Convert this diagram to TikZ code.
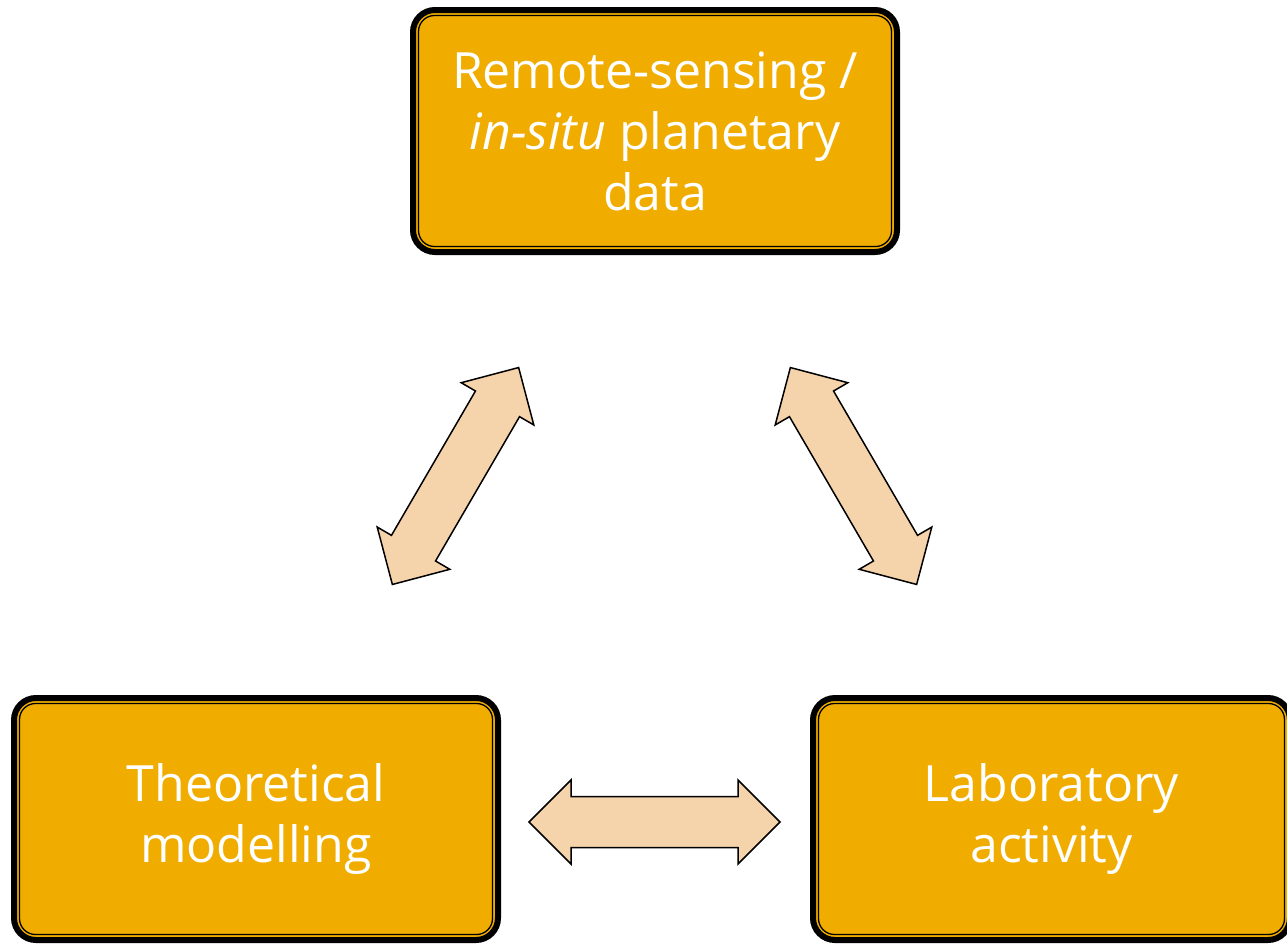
\documentclass[tikz,border=0pt]{standalone}
\usepackage{fontspec}
\setmainfont{Open Sans}
\definecolor{boxorange}{HTML}{F0AD00}
\definecolor{arrowpeach}{HTML}{F6D4AB}
\tikzset{
  bigbox/.style={draw=black, line width=6pt, fill=boxorange, rounded corners=22pt,
    minimum height=242pt, inner sep=0pt, outer sep=0pt, align=center, text=white,
    font=\fontsize{50pt}{61pt}\selectfont},
  innerline/.style={draw=black, line width=1.3pt, rounded corners=16pt},
  dblarrow/.style={draw=black, line width=1.5pt, fill=arrowpeach, line join=miter}
}
\newcommand{\dblarrowshape}{(-125.5,0) -- (-83.5,42) -- (-83.5,25.5) -- (83.5,25.5) -- (83.5,42) -- (125.5,0) -- (83.5,-42) -- (83.5,-25.5) -- (-83.5,-25.5) -- (-83.5,-42) -- cycle}
\begin{document}
\begin{tikzpicture}[x=1pt,y=-1pt]
\useasboundingbox (0,0) rectangle (1287,943);
\clip (0,0) rectangle (1287,943);
\node[bigbox, minimum width=484pt] (remote) at (655,131) {Remote-sensing /\\\textit{in-situ} planetary\\data};
\node[bigbox, minimum width=484pt] (theory) at (256,819) {Theoretical\\modelling};
\node[bigbox, minimum width=477pt] (lab) at (1051.5,819) {Laboratory\\activity};
\draw[innerline] ([shift={(5.5,5.5)}]remote.north west) rectangle ([shift={(-5.5,-5.5)}]remote.south east);
\draw[innerline] ([shift={(5.5,5.5)}]theory.north west) rectangle ([shift={(-5.5,-5.5)}]theory.south east);
\draw[innerline] ([shift={(5.5,5.5)}]lab.north west) rectangle ([shift={(-5.5,-5.5)}]lab.south east);
\coordinate (arrowL) at (455.5,476);
\coordinate (arrowR) at (853.5,476);
\coordinate (arrowB) at (654.5,822);
\draw[dblarrow, shift={(arrowL)}, rotate=59.8] \dblarrowshape;
\draw[dblarrow, shift={(arrowR)}, rotate=-59.8] \dblarrowshape;
\draw[dblarrow, shift={(arrowB)}] \dblarrowshape;
\end{tikzpicture}
\end{document}
